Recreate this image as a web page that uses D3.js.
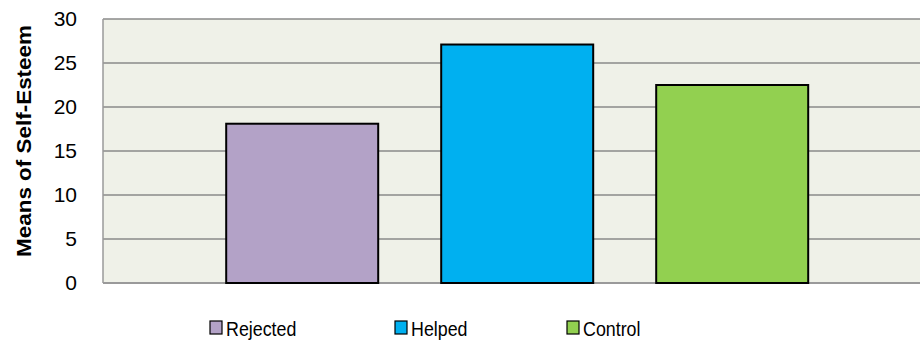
<!DOCTYPE html>
<html>
<head>
<meta charset="utf-8">
<script src="https://cdnjs.cloudflare.com/ajax/libs/d3/7.8.5/d3.min.js"></script>
<style>
  html, body { margin: 0; padding: 0; background: #fff; }
  svg { display: block; }
  text { font-family: "Liberation Sans", Arial, sans-serif; fill: #000; }
</style>
</head>
<body>
<svg id="chart" width="920" height="345"></svg>
<script>
// Mean self-esteem score for each condition
const categories = ["Rejected", "Helped", "Control"];
const values = [18.1, 27.1, 22.5];
const colors = ["#B3A2C7", "#00B0F0", "#92D050"];
const yTicks = [0, 5, 10, 15, 20, 25, 30];
const yTitle = "Means of Self-Esteem";

const svg = d3.select("#chart");
const plot = { left: 103, right: 922, top: 19, bottom: 283 };

const y = d3.scaleLinear().domain([0, 30]).range([plot.bottom, plot.top]);
const x = d3.scaleBand()
  .domain(categories)
  .range([194.7, 839.7])
  .paddingInner(0.293)
  .paddingOuter(0.1465);

// plot background
svg.append("rect")
  .attr("x", plot.left).attr("y", plot.top)
  .attr("width", plot.right - plot.left).attr("height", plot.bottom - plot.top)
  .attr("fill", "#EFF1E8");

// horizontal gridlines
svg.append("g")
  .selectAll("line")
  .data(yTicks.filter(d => d > 0))
  .join("line")
  .attr("x1", plot.left).attr("x2", plot.right)
  .attr("y1", d => y(d)).attr("y2", d => y(d))
  .attr("stroke", "#8A8A8A").attr("stroke-width", 1.5);

// left border and baseline
svg.append("line")
  .attr("x1", plot.left).attr("x2", plot.left)
  .attr("y1", plot.top).attr("y2", plot.bottom)
  .attr("stroke", "#9A9A9A").attr("stroke-width", 1.5);
svg.append("line")
  .attr("x1", plot.left).attr("x2", plot.right)
  .attr("y1", plot.bottom).attr("y2", plot.bottom)
  .attr("stroke", "#9A9A9A").attr("stroke-width", 2);

// y axis tick labels
const yAxis = d3.axisLeft(y).tickValues(yTicks).tickSize(0).tickPadding(0);
const gy = svg.append("g").attr("transform", `translate(${plot.left - 26},0)`).call(yAxis);
gy.select(".domain").remove();
gy.selectAll("text")
  .attr("font-family", "Liberation Sans, Arial, sans-serif")
  .attr("font-size", 21)
  .attr("fill", "#000");

// y axis title
svg.append("text")
  .attr("transform", `translate(31,141) rotate(-90)`)
  .attr("text-anchor", "middle")
  .attr("font-size", 20.5)
  .attr("font-weight", "bold")
  .attr("textLength", 232)
  .attr("lengthAdjust", "spacingAndGlyphs")
  .text(yTitle);

// bars
svg.append("g")
  .selectAll("rect")
  .data(categories.map((c, i) => ({ c, v: values[i], color: colors[i] })))
  .join("rect")
  .attr("x", d => x(d.c))
  .attr("y", d => y(d.v))
  .attr("width", x.bandwidth())
  .attr("height", d => y(0) - y(d.v))
  .attr("fill", d => d.color)
  .attr("stroke", "#000")
  .attr("stroke-width", 2);

// legend: swatch plus a horizontally condensed label
const legendX = [210, 395, 567];
const leg = svg.append("g")
  .selectAll("g")
  .data(categories.map((c, i) => ({ c, color: colors[i], lx: legendX[i] })))
  .join("g")
  .attr("transform", d => `translate(${d.lx},321)`);
leg.append("rect")
  .attr("width", 12).attr("height", 13)
  .attr("fill", d => d.color)
  .attr("stroke", "#000").attr("stroke-width", 1.2);
leg.append("text")
  .attr("transform", "translate(16,14.5) scale(0.85,1)")
  .attr("font-size", 21)
  .text(d => d.c);
</script>
</body>
</html>
